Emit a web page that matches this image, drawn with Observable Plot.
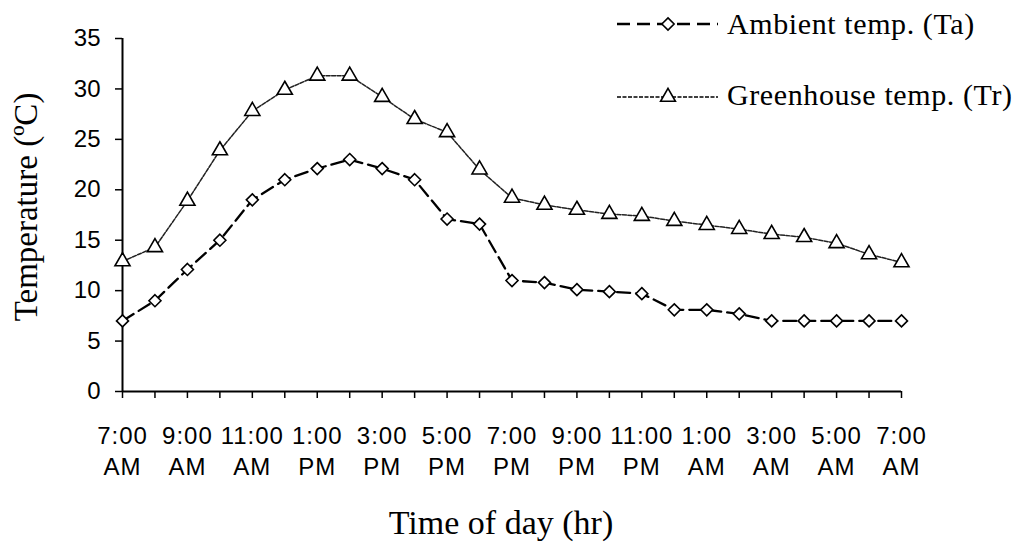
<!DOCTYPE html>
<html>
<head>
<meta charset="utf-8">
<script src="https://cdn.jsdelivr.net/npm/d3@7"></script>
<script src="https://cdn.jsdelivr.net/npm/@observablehq/plot@0.6"></script>
<style>
  html, body { margin: 0; padding: 0; background: #fff; }
  #wrap { position: relative; width: 1029px; height: 551px; }
  #legend { position: absolute; left: 0; top: 0; width: 1029px; height: 130px; pointer-events: none; }
</style>
</head>
<body>
<div id="wrap"></div>
<script>
// ---- data ----
const hours = d3.range(0, 25); // hourly index from 7:00 AM to 7:00 AM next day
const ambient = [7.0, 9.0, 12.1, 15.0, 19.0, 21.0, 22.1, 23.0, 22.1, 21.0, 17.1, 16.6, 11.0, 10.8, 10.1, 9.9, 9.7, 8.1, 8.1, 7.7, 7.0, 7.0, 7.0, 7.0, 7.0];
const greenhouse = [12.9, 14.3, 18.9, 23.9, 27.8, 29.9, 31.3, 31.3, 29.2, 27.0, 25.7, 22.0, 19.2, 18.5, 18.0, 17.6, 17.4, 16.9, 16.5, 16.1, 15.6, 15.3, 14.7, 13.6, 12.8];
const tickLabels = ["7:00\nAM", "9:00\nAM", "11:00\nAM", "1:00\nPM", "3:00\nPM", "5:00\nPM", "7:00\nPM", "9:00\nPM", "11:00\nPM", "1:00\nAM", "3:00\nAM", "5:00\nAM", "7:00\nAM"];
const labelTicks = d3.range(0, 25, 2);
const yTicks = [0, 5, 10, 15, 20, 25, 30, 35];
const seriesNames = ["Ambient temp. (Ta)", "Greenhouse temp. (Tr)"];
const yTitle = "Temperature (ºC)";
const xTitle = "Time of day (hr)";

const amb = hours.map((h, i) => ({h, v: ambient[i]}));
const gh = hours.map((h, i) => ({h, v: greenhouse[i]}));

const sans = "'Liberation Sans', Arial, sans-serif";
const serif = "'Liberation Serif', 'Times New Roman', serif";

const chart = Plot.plot({
  width: 1029,
  height: 551,
  marginLeft: 122,
  marginRight: 128,
  marginTop: 38,
  marginBottom: 160,
  style: {fontFamily: sans, background: "#fff", color: "#000"},
  x: {domain: [0, 24]},
  y: {domain: [0, 35]},
  marks: [
    Plot.axisY({ticks: yTicks, tickSize: 7, tickPadding: 15, fontSize: 24, label: null, stroke: "#000", strokeWidth: 1.5, fill: "#000"}),
    Plot.axisX({ticks: hours, tickSize: 7, tickFormat: () => "", label: null, stroke: "#000", strokeWidth: 1.5}),
    Plot.axisX({ticks: labelTicks, tickSize: 0, tickPadding: 30, tickFormat: (d) => tickLabels[d / 2], fontSize: 24, lineHeight: 1.3, label: null, fill: "#000"}),
    Plot.ruleX([0], {stroke: "#000", strokeWidth: 2}),
    Plot.ruleY([0], {stroke: "#000", strokeWidth: 2}),
    Plot.line(gh, {x: "h", y: "v", stroke: "#222", strokeWidth: 1.5, strokeDasharray: "4,1.5"}),
    Plot.line(amb, {x: "h", y: "v", stroke: "#000", strokeWidth: 2.3, strokeDasharray: "13,6"}),
    Plot.dot(gh, {x: "h", y: "v", symbol: "triangle", r: 5.6, fill: "#fff", stroke: "#000", strokeWidth: 1.6}),
    Plot.dot(amb, {x: "h", y: "v", symbol: "diamond2", r: 5.4, fill: "#fff", stroke: "#000", strokeWidth: 1.6}),
    Plot.text([yTitle], {frameAnchor: "left", textAnchor: "middle", dx: -96, dy: -8, rotate: -90, fontSize: 33, fontFamily: serif, fill: "#000"}),
    Plot.text([xTitle], {frameAnchor: "bottom", textAnchor: "middle", dx: -11, dy: 142, fontSize: 34, fontFamily: serif, fill: "#000"})
  ]
});

document.getElementById("wrap").appendChild(chart);
d3.select(chart).selectAll("g[aria-label='x-axis tick label'] text").style("letter-spacing", "1px");

// legend (drawn with d3 in an overlay svg)
const leg = d3.select("#wrap").append("svg")
  .attr("id", "legend").attr("width", 1029).attr("height", 130);
const rows = [
  {name: seriesNames[0], y: 24, dash: "13,7", sw: 2.3, sym: d3.symbolDiamond2, ty: 34},
  {name: seriesNames[1], y: 97, dash: "4,1.5", sw: 1.5, sym: d3.symbolTriangle, ty: 105}
];
for (const r of rows) {
  leg.append("line").attr("x1", 617).attr("x2", 718).attr("y1", r.y).attr("y2", r.y)
    .attr("stroke", "#000").attr("stroke-width", r.sw).attr("stroke-dasharray", r.dash);
  leg.append("path").attr("transform", `translate(668,${r.y})`)
    .attr("d", d3.symbol(r.sym, Math.PI * 5.5 * 5.5)())
    .attr("fill", "#fff").attr("stroke", "#000").attr("stroke-width", 1.6);
  leg.append("text").attr("x", 727).attr("y", r.ty).text(r.name)
    .attr("font-family", serif).attr("font-size", 30).attr("letter-spacing", "0.6px").attr("fill", "#000");
}
</script>
</body>
</html>
